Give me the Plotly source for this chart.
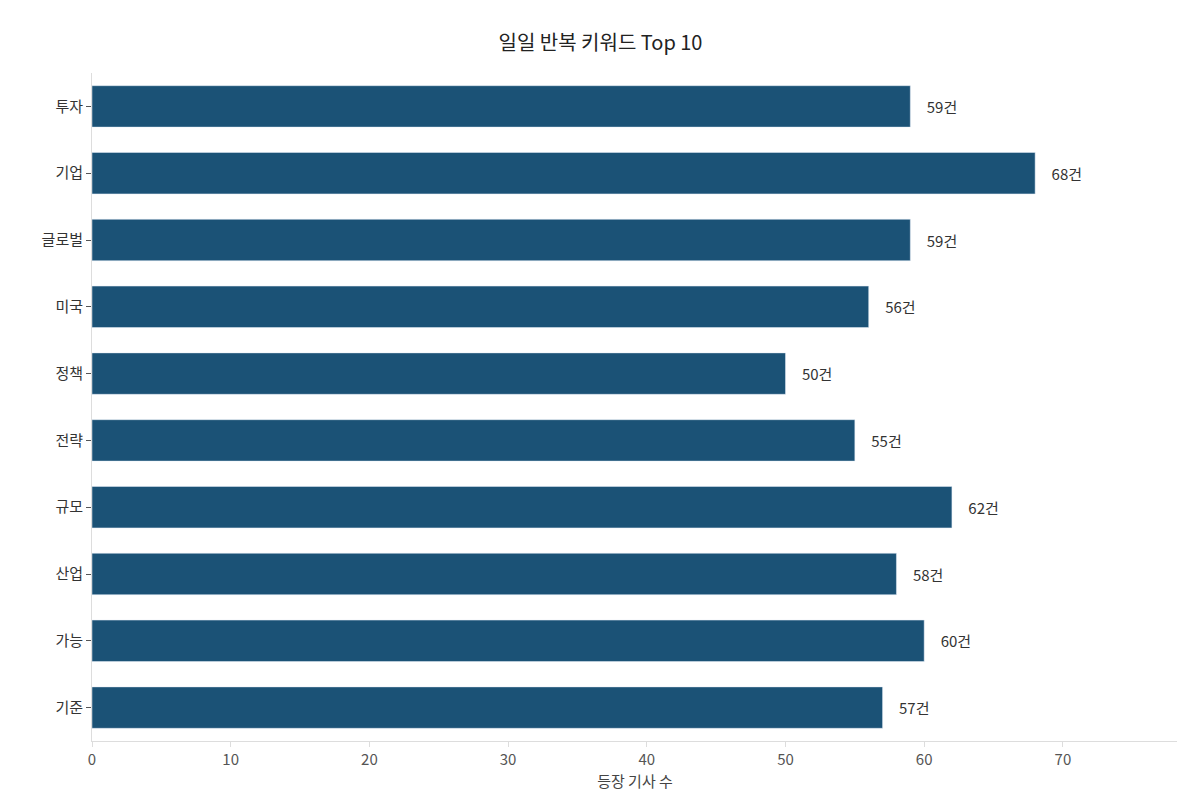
import plotly.graph_objects as go

keywords = ["투자", "기업", "글로벌", "미국", "정책", "전략", "규모", "산업", "가능", "기준"]
counts = [59, 68, 59, 56, 50, 55, 62, 58, 60, 57]
labels = [f"    {c}건" for c in counts]

fig = go.Figure(go.Bar(
    x=counts, y=keywords, orientation="h",
    marker=dict(color="#1b5276"),
    width=0.62,
    text=labels, textposition="outside",
    textfont=dict(size=15, color="#333333"),
    cliponaxis=False,
))

fig.update_layout(
    width=1185, height=809,
    plot_bgcolor="white", paper_bgcolor="white",
    font=dict(family="Noto Sans CJK KR", size=14, color="#444444"),
    title=dict(text="일일 반복 키워드 Top 10", x=0.5, y=0.965, xanchor="center",
               font=dict(size=20, color="#222222")),
    margin=dict(l=84, r=15, t=65, b=76),
    showlegend=False,
)
fig.update_xaxes(range=[0, 78.3], dtick=10, showgrid=False, zeroline=False,
                 automargin=False,
                 showline=True, linecolor="#dddddd", ticks="outside",
                 tickcolor="#dddddd", ticklen=5,
                 title=dict(text="등장 기사 수", font=dict(size=15), standoff=8),
                 tickfont=dict(size=15, color="#555555"))
fig.update_yaxes(autorange="reversed", showgrid=False, zeroline=False,
                 automargin=False,
                 showline=True, linecolor="#dddddd", ticks="outside",
                 tickcolor="#555555", ticklen=5,
                 tickfont=dict(size=15, color="#333333"))

fig.write_html("out.html")
